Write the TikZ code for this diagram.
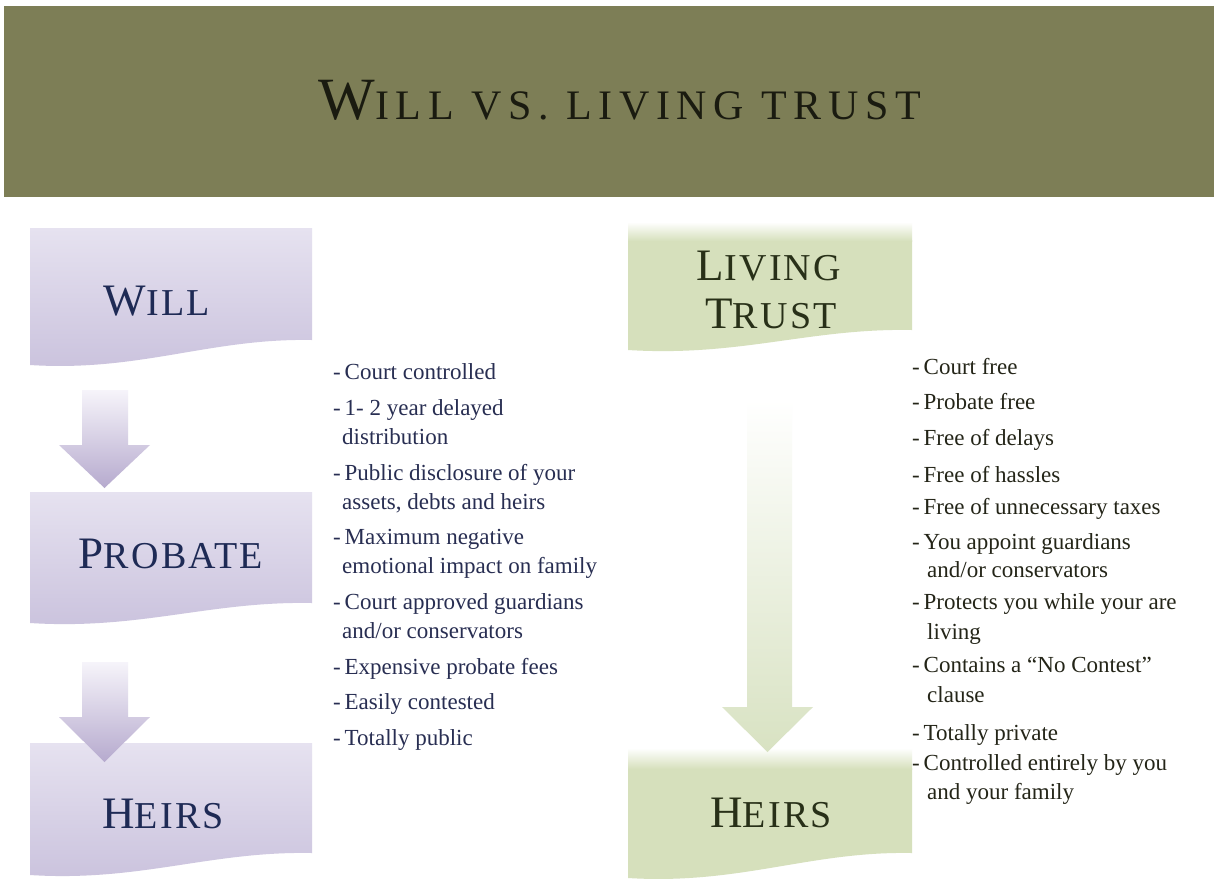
\documentclass[tikz,border=0pt]{standalone}
\usepackage{fontspec}
\setmainfont{Liberation Serif}
\newfontfamily\headfont[LetterSpace=6]{Liberation Serif}
\newfontfamily\titlefont[LetterSpace=16]{Liberation Serif}
\definecolor{band}{RGB}{125,126,86}
\definecolor{titletxt}{RGB}{26,27,16}
\definecolor{lavtop}{RGB}{230,226,240}
\definecolor{lavbot}{RGB}{202,194,221}
\definecolor{lavarrtop}{RGB}{246,244,250}
\definecolor{lavarrbot}{RGB}{182,170,206}
\definecolor{navy}{RGB}{30,42,85}
\definecolor{listnavy}{RGB}{40,46,82}
\definecolor{grn}{RGB}{214,224,188}
\definecolor{grnarr}{RGB}{216,226,194}
\definecolor{grntxt}{RGB}{40,48,24}
\definecolor{listgrn}{RGB}{36,37,24}
\newcommand\hcap[2]{{\headfont\fontsize{45}{45}\selectfont #1}{\headfont\fontsize{38}{38}\selectfont #2}}
\newcommand\tcap[2]{{\titlefont\fontsize{60}{60}\selectfont #1}{\titlefont\fontsize{42}{42}\selectfont #2}}
\begin{document}
\begin{tikzpicture}[x=1pt,y=-1pt,
  head/.style={anchor=base,inner sep=0pt},
  litem/.style={anchor=base west,inner sep=0pt,font=\fontsize{23}{23}\selectfont,text=listnavy},
  ritem/.style={anchor=base west,inner sep=0pt,font=\fontsize{23}{23}\selectfont,text=listgrn},
  lavbox/.style={top color=lavtop,bottom color=lavbot},
  lavarrow/.style={top color=lavarrtop,bottom color=lavarrbot},
  grnarrow/.style={top color=white,bottom color=grnarr}
]
\useasboundingbox (0,0) rectangle (1214,879);
\fill[white] (0,0) rectangle (1214,879);
% header band
\fill[band] (4,6) rectangle (1214,197);
\node[head,text=titletxt] (title) at (620,119) {\tcap{W}{ILL VS. LIVING TRUST}};

% left column boxes
\shade[lavbox] (30,228) -- (312,228) -- (312,340) .. controls (210,338) and (140,372) .. (30,365) -- cycle;
\shade[lavbox] (30,492) -- (312,492) -- (312,603) .. controls (210,601) and (140,630) .. (30,623) -- cycle;
\shade[lavbox] (30,743) -- (312,743) -- (312,853) .. controls (210,851) and (140,882) .. (30,875) -- cycle;
\node[head,text=navy] (will) at (157,315) {\hcap{W}{ILL}};
\node[head,text=navy] (probate) at (171,568) {\hcap{P}{ROBATE}};
\node[head,text=navy] (heirsL) at (163,828) {\hcap{H}{EIRS}};

% left arrows
\shade[lavarrow] (82,390) -- (128,390) -- (128,445) -- (150,445) -- (104.5,488) -- (59,445) -- (82,445) -- cycle;
\shade[lavarrow] (82,662) -- (128,662) -- (128,717) -- (150,717) -- (104.5,762) -- (59,717) -- (82,717) -- cycle;

% right column boxes
\fill[grn] (628,240) -- (912,240) -- (912,330) .. controls (810,328) and (740,357) .. (628,350) -- cycle;
\shade[top color=white,bottom color=grn] (628,222) rectangle (912,241);
\fill[grn] (628,768) -- (912,768) -- (912,853) .. controls (810,851) and (740,885) .. (628,878) -- cycle;
\shade[top color=white,bottom color=grn] (628,748) rectangle (912,769);
\node[head,text=grntxt] (living) at (769,280) {\hcap{L}{IVING}};
\node[head,text=grntxt] (trust) at (771,328) {\hcap{T}{RUST}};
\node[head,text=grntxt] (heirsR) at (771,827) {\hcap{H}{EIRS}};

% green arrow
\shade[grnarrow] (747,400) -- (792,400) -- (792,707) -- (813,707) -- (767.5,752) -- (722,707) -- (747,707) -- cycle;

% left list
\node[litem] (l1)  at (333,379) {-\,Court controlled};
\node[litem] (l2)  at (333,415) {-\,1- 2 year delayed};
\node[litem] (l2b) at (342,444) {distribution};
\node[litem] (l3)  at (333,480) {-\,Public disclosure of your};
\node[litem] (l3b) at (342,509) {assets, debts and heirs};
\node[litem] (l4)  at (333,544) {-\,Maximum negative};
\node[litem] (l4b) at (342,573) {emotional impact on family};
\node[litem] (l5)  at (333,609) {-\,Court approved guardians};
\node[litem] (l5b) at (342,638) {and/or conservators};
\node[litem] (l6)  at (333,674) {-\,Expensive probate fees};
\node[litem] (l7)  at (333,709) {-\,Easily contested};
\node[litem] (l8)  at (333,745) {-\,Totally public};

% right list
\node[ritem] (r1)  at (912,374) {-\,Court free};
\node[ritem] (r2)  at (912,409) {-\,Probate free};
\node[ritem] (r3)  at (912,445) {-\,Free of delays};
\node[ritem] (r4)  at (912,482) {-\,Free of hassles};
\node[ritem] (r5)  at (912,514) {-\,Free of unnecessary taxes};
\node[ritem] (r6)  at (912,549) {-\,You appoint guardians};
\node[ritem] (r6b) at (927,577) {and/or conservators};
\node[ritem] (r7)  at (912,609) {-\,Protects you while your are};
\node[ritem] (r7b) at (927,639) {living};
\node[ritem] (r8)  at (912,672) {-\,Contains a “No Contest”};
\node[ritem] (r8b) at (927,702) {clause};
\node[ritem] (r9)  at (912,740) {-\,Totally private};
\node[ritem] (r10) at (912,770) {-\,Controlled entirely by you};
\node[ritem] (r10b) at (927,799) {and your family};
\end{tikzpicture}
\end{document}
